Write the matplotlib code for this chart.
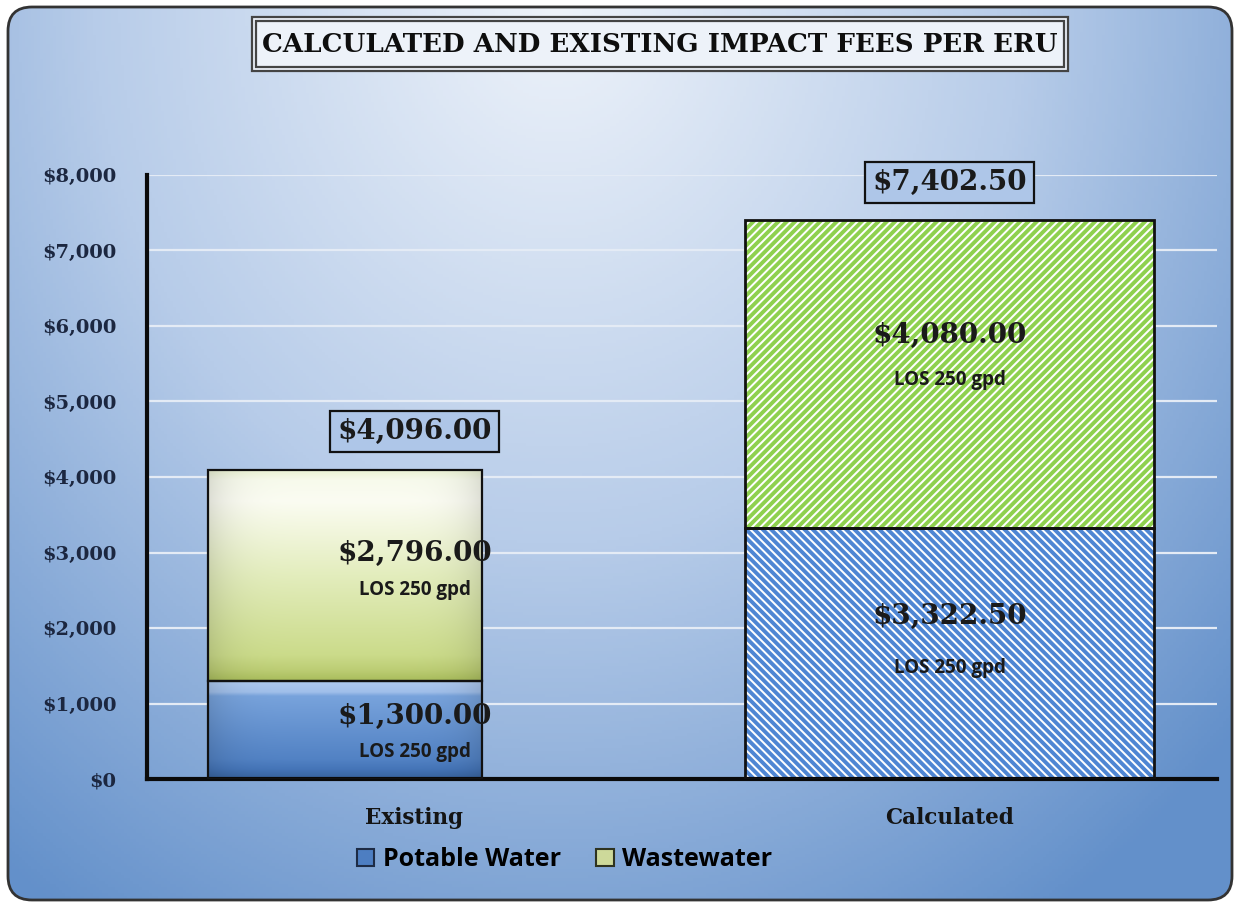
import numpy as np
import matplotlib.pyplot as plt
from matplotlib.patches import FancyBboxPatch, Rectangle, Patch
from matplotlib.colors import LinearSegmentedColormap, to_rgb

# ---------------------------------------------------------------- data
categories = ["Existing", "Calculated"]
potable = [1300.00, 3322.50]
wastewater = [2796.00, 4080.00]
totals = [4096.00, 7402.50]
los_text = "LOS 250 gpd"
series_names = ["Potable Water", "Wastewater"]
yticks = [0, 1000, 2000, 3000, 4000, 5000, 6000, 7000, 8000]
title = "CALCULATED AND EXISTING IMPACT FEES PER ERU"

SERIF = "DejaVu Serif"
SANS = "Open Sans"
plt.rcParams["hatch.linewidth"] = 2.8

W, H = 1238, 905
fig = plt.figure(figsize=(W / 100, H / 100), dpi=100)

# ---------------------------------------------------------------- background
bg = fig.add_axes([0, 0, 1, 1], zorder=-10)
bg.set_xlim(0, W); bg.set_ylim(H, 0); bg.set_axis_off()
yy, xx = np.mgrid[0:1:300j, 0:1:400j]
dist = np.clip(np.sqrt(((xx - 0.45) / 0.75) ** 2 + ((yy - 0.0) / 1.2) ** 2), 0, 1)
bg_cmap = LinearSegmentedColormap.from_list("bg", ["#eef3fa", "#b7cce9", "#6390ca"])
frame = FancyBboxPatch((8, 7), W - 14, H - 12, boxstyle="round,pad=0,rounding_size=24",
                       fc="none", ec="#333333", lw=2, zorder=3)
bg.add_patch(frame)
im = bg.imshow(dist, cmap=bg_cmap, extent=[0, W, H, 0], aspect="auto", zorder=1)
im.set_clip_path(frame)

# title with double border
bg.add_patch(Rectangle((252, 17), 816, 54, fc="#edf2f9", ec="#444444", lw=1.6, zorder=4))
bg.add_patch(Rectangle((256, 21), 808, 46, fc="none", ec="#444444", lw=1.6, zorder=4))
bg.text(660, 45, title, ha="center", va="center", fontsize=18.8, family=SERIF,
        fontweight="bold", color="#0e0e0e", zorder=5)

# ---------------------------------------------------------------- main axes
ax = fig.add_axes([147 / W, 1 - 779 / H, (1217 - 147) / W, (779 - 175) / H])
ax.patch.set_alpha(0)
x = np.arange(len(categories))
offsets = [-0.13, 0.0]          # existing bar sits left of its category centre
widths = [0.513, 0.765]
bar_x = x + np.array(offsets)


def gradient(ax, rect, stops, edge_dark=0.12):
    """Fill a bar rectangle with a vertical gradient plus darker side edges."""
    x0, y0 = rect.get_x(), rect.get_y()
    w, h = rect.get_width(), rect.get_height()
    t = np.linspace(0, 1, 200)
    u = np.linspace(0, 1, 200)[None, :]
    pos = np.array([s[0] for s in stops])
    cols = np.array([to_rgb(s[1]) for s in stops])
    img = np.stack([np.interp(t, pos, cols[:, k]) for k in range(3)], axis=-1)
    img = np.repeat(img[:, None, :], 200, axis=1)
    shade = 1 - edge_dark * np.abs(2 * u - 1) ** 6
    img = np.clip(img * shade[..., None], 0, 1)
    g = ax.imshow(img, extent=[x0, x0 + w, y0, y0 + h], aspect="auto", zorder=2,
                  interpolation="bilinear")
    g.set_clip_path(rect)


# existing bar (gradient fills)
b_pot = ax.bar(bar_x[0], potable[0], widths[0], fc="none", ec="#111111", lw=1.6, zorder=3)
b_ww = ax.bar(bar_x[0], wastewater[0], widths[0], bottom=potable[0], fc="none",
              ec="#111111", lw=1.6, zorder=3)
gradient(ax, b_pot[0], [(0, "#b0cbef"), (0.12, "#a0bfea"), (0.16, "#78a3dc"),
                        (0.8, "#5282c4"), (0.9, "#4575b8"), (1, "#37629c")])
gradient(ax, b_ww[0], [(0, "#eaf2d2"), (0.05, "#f7faec"), (0.15, "#fbfcf2"),
                       (0.5, "#e3edbd"), (0.88, "#cbdb8a"), (0.95, "#bccd74"), (1, "#a9bd5c")],
         edge_dark=0.12)

# calculated bar (hatched)
ax.bar(bar_x[1], potable[1], widths[1], fc="white", ec="#4f86d3", lw=0,
       hatch="\\\\\\\\", zorder=2)
ax.bar(bar_x[1], wastewater[1], widths[1], bottom=potable[1], fc="white", ec="#8fd14f",
       lw=0, hatch="////", zorder=2)
ax.bar(bar_x[1], potable[1], widths[1], fc="none", ec="#111111", lw=2, zorder=3)
ax.bar(bar_x[1], wastewater[1], widths[1], bottom=potable[1], fc="none", ec="#111111",
       lw=2, zorder=3)

# segment labels
val_dy = [[13, 22], [37, 39]]     # pixels above segment middle (potable, wastewater)
los_dy = [[-22, -15], [-14, -6]]
for i in range(len(categories)):
    for j, (bottom, val) in enumerate([(0, potable[i]), (potable[i], wastewater[i])]):
        mid = bottom + val / 2
        ax.annotate(f"${val:,.2f}", (x[i], mid), xytext=(0, val_dy[i][j]),
                    textcoords="offset pixels", ha="center", va="center", fontsize=20,
                    family=SERIF, fontweight="bold", color="#1a1a1a", zorder=6)
        ax.annotate(los_text, (x[i], mid), xytext=(0, los_dy[i][j]),
                    textcoords="offset pixels", ha="center", va="center", fontsize=13.5,
                    family=SANS, fontweight="bold", color="#1a1a1a", zorder=6)
    ax.annotate(f"${totals[i]:,.2f}", (x[i], totals[i]), xytext=(0, 38),
                textcoords="offset pixels", ha="center", va="center", fontsize=20,
                family=SERIF, fontweight="bold", color="#1a1a1a", zorder=6,
                bbox=dict(boxstyle="square,pad=0.25", fc="#aec6e8", ec="#111111", lw=1.6))

ax.set_xlim(-0.5, 1.5)
ax.set_ylim(0, 8000)
ax.set_yticks(yticks, [f"${v:,.0f}" for v in yticks])
ax.set_xticks(x, categories)
ax.yaxis.grid(True, color="#e4ebf5", lw=1.6)
ax.set_axisbelow(True)
for s in ["top", "right"]:
    ax.spines[s].set_visible(False)
for s in ["left", "bottom"]:
    ax.spines[s].set_linewidth(3)
    ax.spines[s].set_color("#0a0a0a")
ax.tick_params(axis="both", length=0)
ax.tick_params(axis="y", pad=22)
ax.tick_params(axis="x", pad=20)
for lab in ax.get_yticklabels():
    lab.set_fontfamily(SERIF); lab.set_fontweight("bold"); lab.set_fontsize(14)
    lab.set_color("#1c2740")
for lab in ax.get_xticklabels():
    lab.set_fontfamily(SERIF); lab.set_fontweight("bold"); lab.set_fontsize(15.5)
    lab.set_color("#141414")

# legend
handles = [Patch(fc="#4d7ec2", ec="#1d2b45", lw=1.5), Patch(fc="#cdd99a", ec="#2e3320", lw=1.5)]
fig.legend(handles, series_names, loc="center", bbox_to_anchor=(0.456, 0.05), ncol=2,
           frameon=False, prop=dict(family=SANS, weight="bold", size=18),
           handlelength=0.7, handleheight=0.7, handletextpad=0.35, columnspacing=1.4)

fig.savefig("out.png", dpi=100)
